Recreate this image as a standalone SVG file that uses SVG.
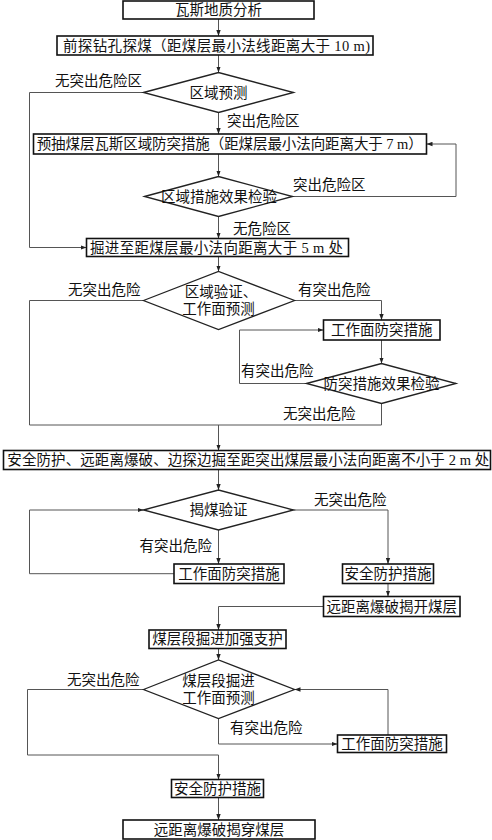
<svg xmlns="http://www.w3.org/2000/svg" width="492" height="840" viewBox="0 0 492 840">
<defs>
<marker id="ah" markerUnits="userSpaceOnUse" markerWidth="7" markerHeight="5" refX="6" refY="2.5" orient="auto">
<path d="M0,0.3 L6,2.5 L0,4.7 z" fill="#222"/>
</marker>
<style>
text{font-family:"Liberation Serif","Noto Sans CJK SC",serif;font-size:14.5px;fill:#111}
.c{text-anchor:middle}
.box{fill:#fff;stroke:#111;stroke-width:1.6}
.dia{fill:#fff;stroke:#222;stroke-width:1.3}
.ln{fill:none;stroke:#555;stroke-width:1}
.ar{fill:none;stroke:#555;stroke-width:1;marker-end:url(#ah)}
</style>
</defs>
<rect width="492" height="840" fill="#fff"/>
<g id="connectors">
<path class="ar" d="M218.5,19 V36"/>
<path class="ar" d="M218.5,55 V72.5"/>
<path class="ar" d="M143.5,92.5 H29.5 V247.5 H86.5"/>
<path class="ar" d="M218.5,112.5 V134"/>
<path class="ar" d="M218.5,154 V176.5"/>
<path class="ar" d="M292.5,196.5 H456 V144 H426.5"/>
<path class="ar" d="M218.5,216.5 V238.5"/>
<path class="ar" d="M218.5,256.5 V271.5"/>
<path class="ln" d="M143.5,300.5 H29.5 V425 H381.5"/>
<path class="ar" d="M294.5,300.5 H381.5 V320"/>
<path class="ar" d="M381.5,340 V363.5"/>
<path class="ar" d="M306.5,383.5 H239.5 V330 H323.5"/>
<path class="ln" d="M381.5,403.5 V425"/>
<path class="ar" d="M218.5,425 V450.5"/>
<path class="ar" d="M218.5,469.5 V490"/>
<path class="ar" d="M293.5,510 H388 V564"/>
<path class="ar" d="M218.5,530 V564"/>
<path class="ar" d="M174,573.7 H29.5 V510 H143.5"/>
<path class="ar" d="M388,583.5 V596.5"/>
<path class="ar" d="M323.5,606.5 H218.5 V630"/>
<path class="ar" d="M218.5,648.5 V660"/>
<path class="ar" d="M143.5,689.5 H27.5 V755 H218.5 V779.5"/>
<path class="ar" d="M218.5,718.5 V744 H337.5"/>
<path class="ar" d="M388,735 V689.5 H294.5"/>
<path class="ar" d="M218.5,797.5 V820"/>
</g>
<g id="labels">
<text x="55" y="86">无突出危险区</text>
<text x="227" y="126">突出危险区</text>
<text x="293" y="190">突出危险区</text>
<text x="233" y="234">无危险区</text>
<text x="68" y="295">无突出危险</text>
<text x="298" y="295">有突出危险</text>
<text x="241" y="376">有突出危险</text>
<text x="283" y="419">无突出危险</text>
<text x="314" y="505">无突出危险</text>
<text x="139.5" y="551">有突出危险</text>
<text x="67" y="685">无突出危险</text>
<text x="230" y="733">有突出危险</text>
</g>
<g id="n1"><rect class="box" x="123" y="1" width="191" height="18"/><text class="c" x="218.5" y="15">瓦斯地质分析</text></g>
<g id="n2"><rect class="box" x="57" y="36" width="316" height="19"/><text x="63" y="50.5" textLength="307">前探钻孔探煤（距煤层最小法线距离大于 10 m)</text></g>
<g id="n3"><polygon class="dia" points="143.5,92.5 218.5,72.5 293.5,92.5 218.5,112.5"/><text class="c" x="218.5" y="97.5">区域预测</text></g>
<g id="n4"><rect class="box" x="33.5" y="134" width="393" height="20"/><text x="36.7" y="149" textLength="386">预抽煤层瓦斯区域防突措施（距煤层最小法向距离大于 7 m）</text></g>
<g id="n5"><polygon class="dia" points="144.5,196.5 218.5,176.5 292.5,196.5 218.5,216.5"/><text class="c" x="219" y="201.5">区域措施效果检验</text></g>
<g id="n6"><rect class="box" x="86.5" y="238.5" width="262" height="18"/><text x="90" y="252.5" textLength="253">掘进至距煤层最小法向距离大于 5 m 处</text></g>
<g id="n7"><polygon class="dia" points="143.5,300.5 218.5,271.5 294.5,300.5 218.5,329.5"/><text class="c" x="221" y="296.7">区域验证、</text><text class="c" x="218.5" y="314.3">工作面预测</text></g>
<g id="n8"><rect class="box" x="323.5" y="320" width="116.5" height="20"/><text class="c" x="381.7" y="335">工作面防突措施</text></g>
<g id="n9"><polygon class="dia" points="306.5,383.5 381.5,363.5 456,383.5 381.5,403.5"/><text class="c" x="381.5" y="388.5">防突措施效果检验</text></g>
<g id="n10"><rect class="box" x="3.5" y="450.5" width="487" height="19"/><text x="7.3" y="465" textLength="482">安全防护、远距离爆破、边探边掘至距突出煤层最小法向距离不小于 2 m 处</text></g>
<g id="n11"><polygon class="dia" points="143.5,510 218.5,490 293.5,510 218.5,530"/><text class="c" x="218.5" y="515">揭煤验证</text></g>
<g id="n12"><rect class="box" x="174" y="564" width="110" height="19.5"/><text class="c" x="229" y="578.7">工作面防突措施</text></g>
<g id="n13"><rect class="box" x="342.5" y="564" width="91" height="19.5"/><text class="c" x="388" y="578.7">安全防护措施</text></g>
<g id="n14"><rect class="box" x="323.5" y="596.5" width="136.5" height="20"/><text class="c" x="391.7" y="611.5">远距离爆破揭开煤层</text></g>
<g id="n15"><rect class="box" x="149" y="630" width="137" height="18.5"/><text class="c" x="217.5" y="644">煤层段掘进加强支护</text></g>
<g id="n16"><polygon class="dia" points="143.5,689.5 218.5,660 294.5,689.5 218.5,718.5"/><text class="c" x="218.5" y="686">煤层段掘进</text><text class="c" x="218.5" y="703.3">工作面预测</text></g>
<g id="n17"><rect class="box" x="337.5" y="735" width="109" height="17.5"/><text class="c" x="392" y="749">工作面防突措施</text></g>
<g id="n18"><rect class="box" x="171.5" y="779.5" width="92" height="18"/><text class="c" x="217.5" y="793.5">安全防护措施</text></g>
<g id="n19"><rect class="box" x="123" y="820" width="192" height="19"/><text class="c" x="219" y="834.5">远距离爆破揭穿煤层</text></g>
</svg>
